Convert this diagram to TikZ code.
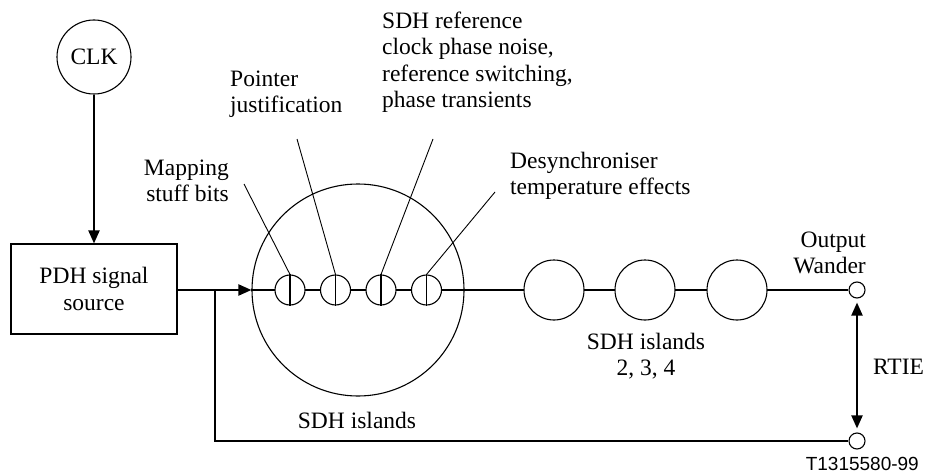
\documentclass[tikz,border=0pt]{standalone}
\usepackage{fontspec}
\setmainfont{Liberation Serif}
\newfontfamily\labelsans{Liberation Sans}
\usetikzlibrary{arrows.meta}
\begin{document}
\begin{tikzpicture}[x=1pt,y=-1pt,
  font=\fontsize{23.5}{26.5}\selectfont,
  thinline/.style={line width=1.1pt},
  mainline/.style={line width=2pt},
  tip/.style={-{Triangle[length=13pt,width=11pt]}},
  island/.style={circle,draw,thinline,fill=white,inner sep=0pt,minimum size=60pt},
  jitter/.style={circle,draw,thinline,fill=white,inner sep=0pt,minimum size=30pt},
  term/.style={circle,draw,thinline,fill=white,inner sep=0pt,minimum size=16pt},
  caption/.style={inner sep=0pt,align=left}]
\useasboundingbox (0,0) rectangle (928,473);

% clock and source
\node[circle,draw,thinline,inner sep=0pt,minimum size=74pt] (clk) at (94,57) {CLK};
\node[draw,thinline,minimum width=166pt,minimum height=90pt,align=center,inner sep=0pt] (src) at (94,289) {PDH signal\\source};
\draw[mainline,tip] (clk.south) -- (src.north);

% first SDH island with its four jitter sources
\node[circle,draw,thinline,inner sep=0pt,minimum size=212pt] (big) at (358,290) {};
\node[term] (out) at (857,290) {};
\draw[mainline] (big.west) -- (out.west);
\coordinate (split) at (215,290);
\draw[mainline,tip] (src.east |- split) -- (big.west);
\node[jitter] (s1) at (290,290) {};
\node[jitter] (s2) at (335.5,290) {};
\node[jitter] (s3) at (381,290) {};
\node[jitter] (s4) at (426.5,290) {};
\foreach \s in {s1,s2,s3,s4}
  \draw[thinline] (\s.north) -- (\s.south);

% further islands
\node[island] (i2) at (554,290) {};
\node[island] (i3) at (645,290) {};
\node[island] (i4) at (737,290) {};

% reference path
\node[term] (ref) at (857,441) {};
\draw[line width=1.4pt] (split) -- (split |- ref) -- (ref.west);
\draw[mainline,{Triangle[length=13pt,width=11pt]}-{Triangle[length=13pt,width=11pt]}]
  ([yshift=-4pt]out.south) -- ([yshift=4pt]ref.north);

% leader lines
\coordinate (p1) at (244,184);
\coordinate (p2) at (297,139);
\coordinate (p3) at (433,139);
\coordinate (p4) at (495,192);
\draw[line width=0.9pt] (p1) -- (s1.north);
\draw[line width=0.9pt] (p2) -- (s2.north);
\draw[line width=0.9pt] (p3) -- (s3.north);
\draw[line width=0.9pt] (p4) -- (s4.north);

% captions
\node[caption,anchor=east,align=right] (t1) at (229,181) {Mapping\\stuff bits};
\node[caption,anchor=west] (t2) at (230,94) {Pointer\\justification};
\node[caption,anchor=west] (t3) at (382,62) {SDH reference\\clock phase noise,\\reference switching,\\phase transients};
\node[caption,anchor=west] (t4) at (510,176) {Desynchroniser\\temperature effects};
\node[caption,anchor=east,align=right] (t5) at (866,253) {Output\\Wander};
\node[caption,align=center] (t6) at (646,356) {SDH islands\\2, 3, 4};
\node[caption] (t7) at (357,420) {SDH islands};
\node[caption,anchor=west] (t8) at (873,367) {RTIE};
\node[inner sep=0pt,anchor=east,font=\labelsans\fontsize{19}{22}\selectfont] (t9) at (919,464) {T1315580-99};
\end{tikzpicture}
\end{document}
